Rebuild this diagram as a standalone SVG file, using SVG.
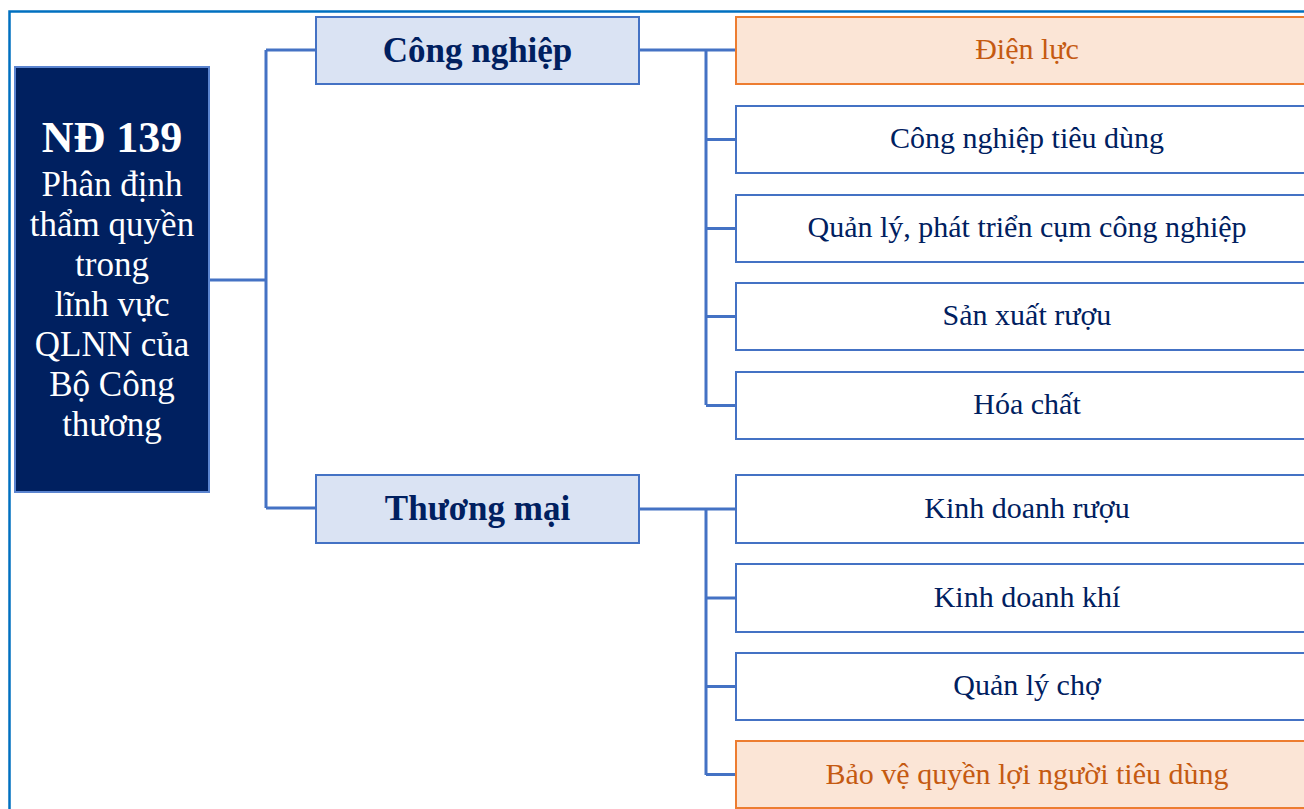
<svg xmlns="http://www.w3.org/2000/svg" width="1304" height="809" viewBox="0 0 1304 809">
<style>
.frame{fill:none;stroke:#0070C0;stroke-width:2.5}
.root{fill:#002060;stroke:#5B84CF;stroke-width:2}
.cat{fill:#DAE3F3;stroke:#4472C4;stroke-width:2}
.leaf{fill:#FFFFFF;stroke:#4472C4;stroke-width:2}
.hl{fill:#FBE5D6;stroke:#ED7D31;stroke-width:2}
.conn{fill:none;stroke:#4472C4;stroke-width:3}
text{font-family:"Liberation Serif","DejaVu Serif",serif;text-anchor:middle}
.rt{fill:#FFFFFF;font-size:35px}
.rtb{fill:#FFFFFF;font-size:44px;font-weight:bold}
.ct{fill:#002060;font-size:35px;font-weight:bold}
.lt{fill:#002060;font-size:30px}
.ht{fill:#C55A11;font-size:30px}
</style>
<rect width="1304" height="809" fill="#FFFFFF"/>
<path class="frame" d="M9.5,809 V11.5 H1304"/>
<g id="connectors">
<path class="conn" d="M209,280 H266 M266,50 V508 M266,50 H316 M266,508 H316"/>
<path class="conn" d="M639,50 H706 M706,50 V405 M706,50 H736 M706,139.5 H736 M706,228.5 H736 M706,316.5 H736 M706,405.5 H736"/>
<path class="conn" d="M639,509 H706 M706,509 V775 M706,509 H736 M706,598 H736 M706,686.5 H736 M706,774.5 H736"/>
</g>
<g id="root">
<rect class="root" x="15" y="67" width="194" height="425"/>
<text class="rtb" x="112" y="152">NĐ 139</text>
<text class="rt" x="112" y="196">Phân định</text>
<text class="rt" x="112" y="236">thẩm quyền</text>
<text class="rt" x="112" y="276">trong</text>
<text class="rt" x="112" y="316">lĩnh vực</text>
<text class="rt" x="112" y="356">QLNN của</text>
<text class="rt" x="112" y="396">Bộ Công</text>
<text class="rt" x="112" y="436">thương</text>
</g>
<g id="cong-nghiep">
<rect class="cat" x="316" y="17" width="323" height="67"/>
<text class="ct" x="477.5" y="62">Công nghiệp</text>
</g>
<g id="thuong-mai">
<rect class="cat" x="316" y="475" width="323" height="68"/>
<text class="ct" x="477.5" y="520">Thương mại</text>
</g>
<g id="dien-luc">
<rect class="hl" x="736" y="17" width="582" height="67"/>
<text class="ht" x="1027" y="59">Điện lực</text>
</g>
<g id="cn-tieu-dung">
<rect class="leaf" x="736" y="106" width="582" height="67"/>
<text class="lt" x="1027" y="148">Công nghiệp tiêu dùng</text>
</g>
<g id="cum-cn">
<rect class="leaf" x="736" y="195" width="582" height="67"/>
<text class="lt" x="1027" y="237">Quản lý, phát triển cụm công nghiệp</text>
</g>
<g id="sx-ruou">
<rect class="leaf" x="736" y="283" width="582" height="67"/>
<text class="lt" x="1027" y="325">Sản xuất rượu</text>
</g>
<g id="hoa-chat">
<rect class="leaf" x="736" y="372" width="582" height="67"/>
<text class="lt" x="1027" y="414">Hóa chất</text>
</g>
<g id="kd-ruou">
<rect class="leaf" x="736" y="475" width="582" height="68"/>
<text class="lt" x="1027" y="518">Kinh doanh rượu</text>
</g>
<g id="kd-khi">
<rect class="leaf" x="736" y="564" width="582" height="68"/>
<text class="lt" x="1027" y="607">Kinh doanh khí</text>
</g>
<g id="cho">
<rect class="leaf" x="736" y="653" width="582" height="67"/>
<text class="lt" x="1027" y="695">Quản lý chợ</text>
</g>
<g id="bao-ve">
<rect class="hl" x="736" y="741" width="582" height="67"/>
<text class="ht" x="1027" y="784">Bảo vệ quyền lợi người tiêu dùng</text>
</g>
</svg>
